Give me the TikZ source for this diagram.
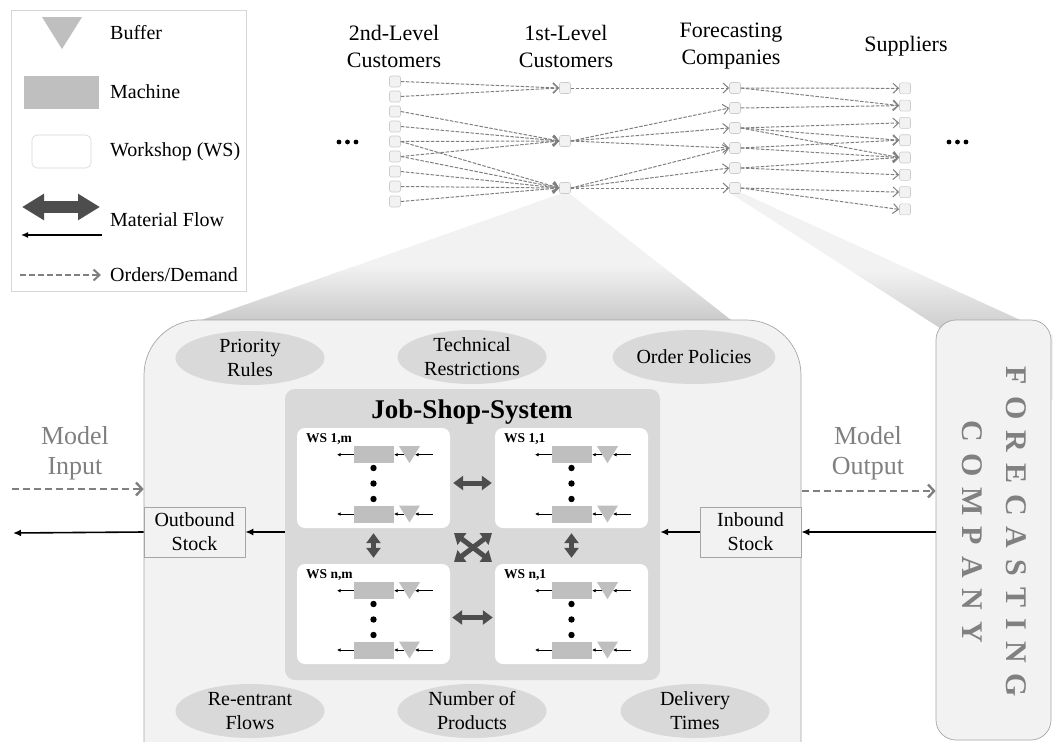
\documentclass[tikz,border=0pt]{standalone}
\usepackage{fontspec}
\setmainfont{Liberation Serif}
\usetikzlibrary{arrows.meta,shapes.geometric,calc}

\definecolor{boxfill}{HTML}{F2F2F2}
\definecolor{boxline}{HTML}{A6A6A6}
\definecolor{midgray}{HTML}{D9D9D9}
\definecolor{machgray}{HTML}{BFBFBF}
\definecolor{darkarrow}{HTML}{4D4D4D}
\definecolor{textgray}{HTML}{808080}
\definecolor{netgray}{HTML}{7F7F7F}
\definecolor{netline}{HTML}{CCCCCC}
\definecolor{legline}{HTML}{D6D6D6}

% gap between the spread-out capitals of the company name
\newcommand{\lsp}{\kern 11pt}

% one workshop: white panel, two machine lines with buffers, dots between
\newcommand{\wsblock}[4]{%
  \node[wsbox] (#1) at (#2+76.5,#3+50) {};
  \node[wslabel, anchor=west] (#1-lab) at (#2+9,#3+11) {#4};
  \foreach \r/\dy in {1/26.7,2/86}{
    \node[machine] (#1-m\r) at (#2+77,#3+\dy) {};
    \fill[machgray] (#2+102,#3+\dy-8.5) -- (#2+123,#3+\dy-8.5) -- (#2+112.5,#3+\dy+8.5) -- cycle;
    \coordinate (#1-b\r) at (#2+107,#3+\dy);
    \coordinate (#1-i\r) at (#2+136,#3+\dy);
    \coordinate (#1-t\r) at (#2+118,#3+\dy);
    \coordinate (#1-o\r) at (#2+40,#3+\dy);
    \draw[tinyarrow] (#1-b\r) -- (#1-m\r.east);
    \draw[tinyarrow] (#1-i\r) -- (#1-t\r);
    \draw[tinyarrow] (#1-m\r.west) -- (#1-o\r);
  }
  \foreach \dy in {40,55.5,71} \fill (#2+76.5,#3+\dy) circle (3.2);
}

\begin{document}
\begin{tikzpicture}[x=1pt,y=-1pt,
  every node/.style={font=\fontsize{20}{24}\selectfont, inner sep=0pt},
  netnode/.style={draw=netline, fill=boxfill, rounded corners=2pt, minimum size=11pt, inner sep=0pt, line width=0.6pt},
  order/.style={draw=netgray, line width=1pt, dash pattern=on 3.5pt off 1.5pt, -{Straight Barb[length=5.5pt,width=10pt]}},
  toplabel/.style={font=\fontsize{22}{27}\selectfont, align=center},
  ellnode/.style={ellipse, fill=midgray, minimum width=149pt, minimum height=54pt, align=center, inner sep=0pt},
  stock/.style={draw=boxline, fill=boxfill, minimum width=101pt, minimum height=50pt, align=center, line width=0.6pt},
  flow/.style={draw=black, line width=1.6pt, -{Latex[length=8pt,width=7pt]}},
  tinyarrow/.style={draw=black, line width=0.6pt, -{Latex[length=3.5pt,width=3.5pt]}},
  dbl/.style={draw=darkarrow, line width=5pt, {Triangle[length=10pt,width=14pt]}-{Triangle[length=10pt,width=14pt]}},
  model/.style={draw=textgray, line width=2.4pt, dash pattern=on 7pt off 4pt, -{Straight Barb[length=6pt,width=13pt]}},
  modeltext/.style={text=textgray, font=\fontsize{26}{30}\selectfont, align=center},
  wsbox/.style={fill=white, rounded corners=8pt, minimum width=153pt, minimum height=100pt, inner sep=0pt},
  wslabel/.style={font=\fontsize{13.5}{16}\selectfont\bfseries},
  machine/.style={fill=machgray, minimum width=40pt, minimum height=17pt, inner sep=0pt},
  legtext/.style={anchor=west, font=\fontsize{20}{24}\selectfont},
]
\useasboundingbox (0,0) rectangle (1053,742);
\clip (0,0) rectangle (1053,742);

% ---------- zoom fans behind the boxes ----------
\path[fill=black!5] (560,194) -- (196,322) -- (196,400) -- (800,400) -- (800,374) -- (570,194) -- cycle;
\begin{scope}
  \clip (560,194) -- (196,322) -- (196,400) -- (800,400) -- (800,374) -- (570,194) -- cycle;
  \shade[top color=black!5, bottom color=black!22] (150,265) rectangle (810,325);
\end{scope}
\path[fill=black!5] (730,193) -- (940,328) -- (940,400) -- (1053,400) -- (1053,335) -- (742,193) -- cycle;
\begin{scope}
  \clip (730,193) -- (940,328) -- (940,400) -- (1053,400) -- (1053,335) -- (742,193) -- cycle;
  \shade[top color=black!5, bottom color=black!20] (700,270) rectangle (1053,330);
\end{scope}

% ---------- company model and forecasting company ----------
\node[draw=boxline, fill=boxfill, line width=0.7pt, rounded corners=55pt,
      minimum width=657pt, minimum height=500pt] (model) at (472.5,570) {};
\node[draw=boxline, fill=boxfill, line width=0.7pt, rounded corners=20pt,
      minimum width=115pt, minimum height=420pt] (fcbox) at (993.5,530) {};
\node[rotate=-90, text=textgray, align=center,
      font=\bfseries\fontsize{30}{44}\selectfont] (fctext) at (994,532)
      {F\lsp O\lsp R\lsp E\lsp C\lsp A\lsp S\lsp T\lsp I\lsp N\lsp G\\
       C\lsp O\lsp M\lsp P\lsp A\lsp N\lsp Y};

% ---------- influencing factors ----------
\node[ellnode] (prio)  at (250,358) {Priority\\Rules};
\node[ellnode] (tech)  at (472,357) {Technical\\Restrictions};
\node[ellnode] (order) at (694,357) {Order Policies};
\node[ellnode] (reent) at (250,711) {Re-entrant\\Flows};
\node[ellnode] (nprod) at (472,711) {Number of\\Products};
\node[ellnode] (deliv) at (695,711) {Delivery\\Times};

% ---------- job shop ----------
\node[fill=midgray, rounded corners=10pt, minimum width=375pt, minimum height=291pt] (jss) at (472.5,534.5) {};
\node[font=\fontsize{27}{30}\selectfont\bfseries] (jsstitle) at (472,412) {Job-Shop-System};

\wsblock{ws1m}{297}{428}{WS 1,m}
\wsblock{ws11}{495}{428}{WS 1,1}
\wsblock{wsnm}{297}{564}{WS n,m}
\wsblock{wsn1}{495}{564}{WS n,1}

\draw[dbl] ([xshift=3pt,yshift=-5pt]ws1m.east) -- ([xshift=-3pt,yshift=-5pt]ws11.west);
\draw[dbl] ([xshift=2pt,yshift=-3.5pt]wsnm.east) -- ([xshift=-2pt,yshift=-3.5pt]wsn1.west);
\draw[dbl] ([yshift=-5pt]ws1m.south) -- ([yshift=6pt]wsnm.north);
\draw[dbl] ([yshift=-5pt]ws11.south) -- ([yshift=6pt]wsn1.north);
\coordinate (xnw) at (454,533);
\coordinate (xse) at (492,562);
\coordinate (xne) at (492,533);
\coordinate (xsw) at (454,562);
\draw[dbl] (xnw) -- (xse);
\draw[dbl] (xne) -- (xsw);

% ---------- stocks and material flow ----------
\node[stock] (outb) at (194.5,532) {Outbound\\Stock};
\node[stock] (inb)  at (750.5,532) {Inbound\\Stock};
\coordinate (leftend) at (13,533);
\draw[flow] (outb.west) -- (leftend);
\draw[flow] (jss.west |- outb.east) -- (outb.east);
\draw[flow] (inb.west) -- (inb.west -| jss.east);
\draw[flow] (inb.east -| fcbox.west) -- (inb.east);

% ---------- model input / output ----------
\node[modeltext] (mintext) at (75,453) {Model\\Input};
\node[modeltext] (mouttext) at (868,453) {Model\\Output};
\coordinate (mistart) at (12,489);
\coordinate (mostart) at (802,491);
\draw[model] (mistart) -- (mistart -| model.west);
\draw[model] (mostart) -- (mostart -| fcbox.west);

% ---------- legend ----------
\draw[draw=legline, fill=white, line width=0.8pt] (11,10) rectangle (246,291);
\fill[machgray] (42,17) -- (82,17) -- (62,49) -- cycle;
\node[legtext] (lbuf) at (110,33) {Buffer};
\node[machine, minimum width=75pt, minimum height=33pt] (lmach) at (61.5,92.5) {};
\node[legtext] (lmacht) at (110,92) {Machine};
\node[draw=legline, fill=white, rounded corners=5pt, minimum width=59pt, minimum height=33pt, line width=0.6pt] (lws) at (61.5,151.5) {};
\node[legtext] (lwst) at (110,152) {Workshop (WS)};
\coordinate (lda) at (22,207);
\coordinate (ldb) at (100,207);
\draw[draw=darkarrow, line width=12pt, {Triangle[length=22pt,width=25pt]}-{Triangle[length=22pt,width=25pt]}] (lda) -- (ldb);
\coordinate (lfa) at (102,235);
\coordinate (lfb) at (21,235);
\draw[draw=black, line width=1.4pt, -{Latex[length=7pt,width=6pt]}] (lfa) -- (lfb);
\node[legtext] (lflow) at (110,220) {Material Flow};
\coordinate (loa) at (20,275);
\coordinate (lob) at (101,275);
\draw[draw=textgray, line width=2pt, dash pattern=on 6pt off 3pt, -{Straight Barb[length=6pt,width=11pt]}] (loa) -- (lob);
\node[legtext] (lord) at (110,275) {Orders/Demand};

% ---------- supply network ----------
\node[toplabel] (l2nd) at (394,46.5) {2nd-Level\\Customers};
\node[toplabel] (l1st) at (566,46.5) {1st-Level\\Customers};
\node[toplabel] (lfc)  at (731,46.5) {Forecasting\\Companies};
\node[toplabel] (lsup) at (906,46.5) {Suppliers};

\foreach \i in {1,...,9} \node[netnode] (n\i) at (395,81.5+15*\i-15) {};
\node[netnode] (a1) at (565,88) {};
\node[netnode] (a2) at (565,141) {};
\node[netnode] (a3) at (565,188) {};
\foreach \i in {1,...,6} \node[netnode] (f\i) at (735,88+20*\i-20) {};
\foreach \i in {1,...,8} \node[netnode] (s\i) at (905,88.3+17.3*\i-17.3) {};

\foreach \u/\v in {n1/a1,n2/a1,n3/a2,n4/a2,n5/a2,n5/a3,n6/a2,n6/a3,n7/a3,n8/a3,n9/a3,
                   a1/f1,a2/f2,a2/f3,a2/f4,a3/f4,a3/f5,a3/f6,
                   f1/s1,f1/s2,f2/s2,f3/s3,f3/s4,f3/s5,f4/s4,f4/s5,f5/s5,f5/s6,f6/s7,f6/s8}
  \draw[order] (\u.east) -- (\v.west);

\foreach \x in {339,347.5,356} \fill (\x,142) circle (2.4);
\foreach \x in {949,957.5,966} \fill (\x,142) circle (2.4);
\end{tikzpicture}
\end{document}
